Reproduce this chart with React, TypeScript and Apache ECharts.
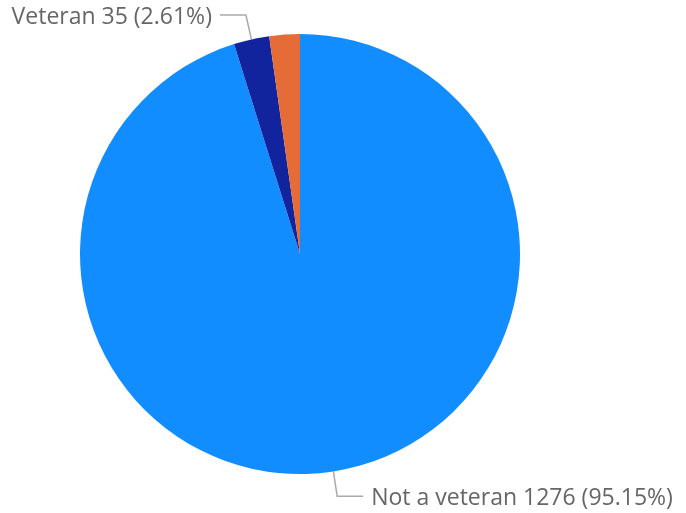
import React, { useEffect, useRef } from "react";
import * as echarts from "echarts";

const categories = ["Not a veteran", "Veteran", "Not reported"];
const values = [1276, 35, 30];
const percents = ["95.15%", "2.61%", "2.24%"];
const showLabel = [true, true, false];
const colors = ["#118DFF", "#12239E", "#E66C37"];

export default function App() {
  const ref = useRef<HTMLDivElement>(null);
  useEffect(() => {
    if (!ref.current) return;
    const chart = echarts.init(ref.current, null, { renderer: "svg" });
    chart.setOption({
      animation: false,
      series: [
        {
          type: "pie",
          center: [300, 254],
          radius: 220,
          startAngle: 90,
          clockwise: true,
          avoidLabelOverlap: false,
          data: categories.map((c, i) => ({
            name: c,
            value: values[i],
            itemStyle: { color: colors[i] },
            label: {
              show: showLabel[i],
              formatter: `${c} ${values[i]} (${percents[i]})`,
            },
            labelLine: { show: showLabel[i] },
          })),
          label: {
            fontFamily: "Open Sans",
            fontSize: 23,
            color: "#666666",
            distanceToLabelLine: 8,
            overflow: "none",
          },
          labelLine: {
            length: 25,
            length2: 26,
            lineStyle: { color: "#AAAAAA", width: 1.5 },
          },
          emphasis: { disabled: true },
        },
      ],
    });
    return () => chart.dispose();
  }, []);
  return (
    <div
      ref={ref}
      style={{ position: "fixed", left: 0, top: 0, width: 686, height: 513 }}
    />
  );
}
